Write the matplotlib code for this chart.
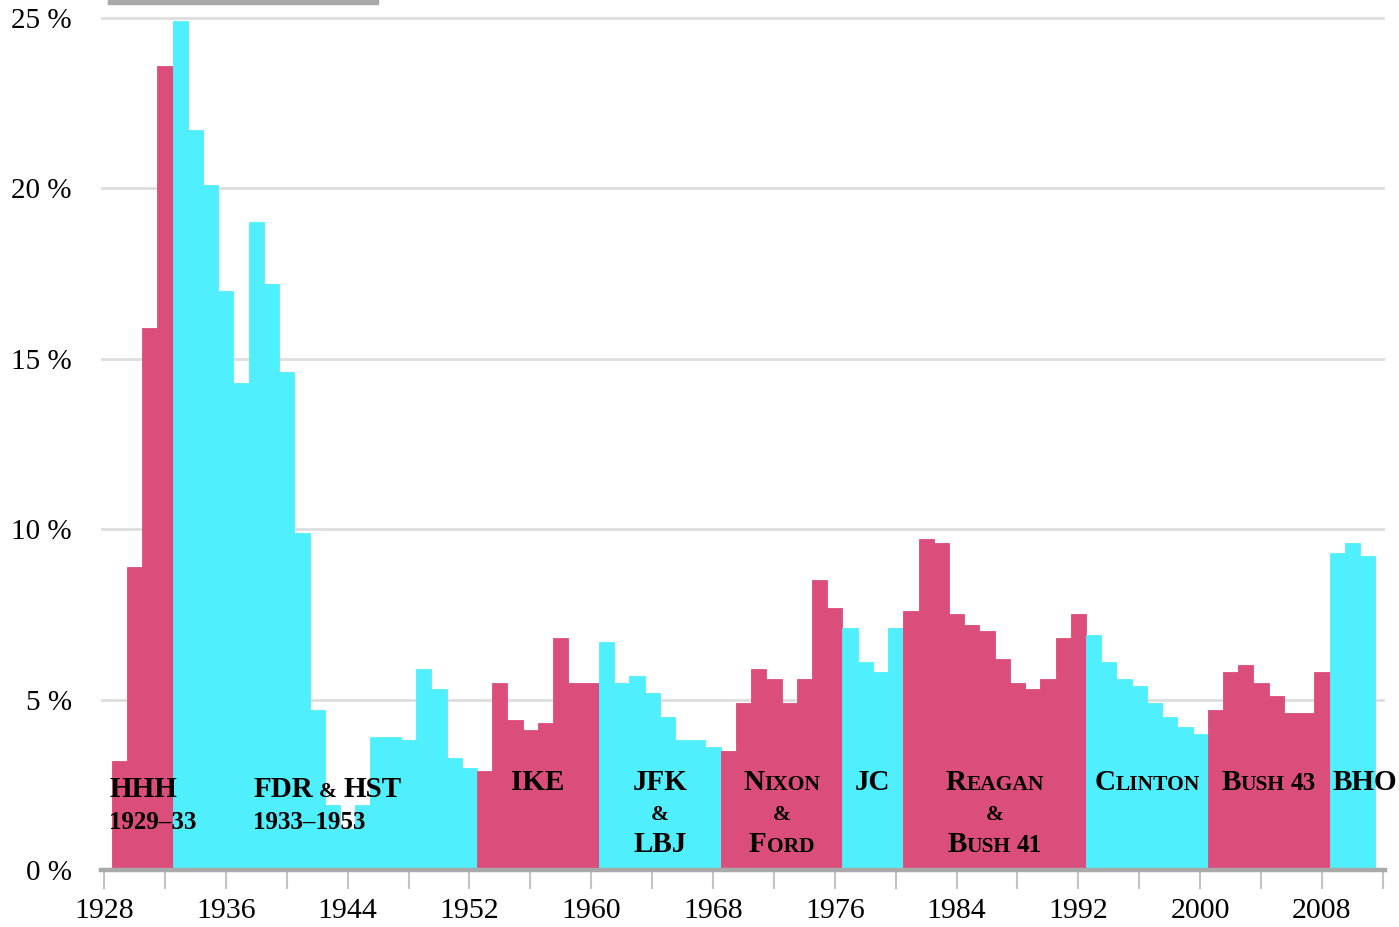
import matplotlib
matplotlib.use("Agg")
import matplotlib.pyplot as plt
from matplotlib.patches import Rectangle
from matplotlib.transforms import offset_copy

# annual unemployment rate, %
years = list(range(1929, 2012))
rates = [
    3.2, 8.9, 15.9, 23.6,                          # Hoover
    24.9, 21.7, 20.1, 17.0, 14.3, 19.0, 17.2, 14.6, 9.9, 4.7, 1.9, 1.2,
    1.9, 3.9, 3.9, 3.8, 5.9, 5.3, 3.3, 3.0,        # FDR & HST
    2.9, 5.5, 4.4, 4.1, 4.3, 6.8, 5.5, 5.5,        # Ike
    6.7, 5.5, 5.7, 5.2, 4.5, 3.8, 3.8, 3.6,        # JFK & LBJ
    3.5, 4.9, 5.9, 5.6, 4.9, 5.6, 8.5, 7.7,        # Nixon & Ford
    7.1, 6.1, 5.8, 7.1,                            # Carter
    7.6, 9.7, 9.6, 7.5, 7.2, 7.0, 6.2, 5.5, 5.3, 5.6, 6.8, 7.5,  # Reagan & Bush
    6.9, 6.1, 5.6, 5.4, 4.9, 4.5, 4.2, 4.0,        # Clinton
    4.7, 5.8, 6.0, 5.5, 5.1, 4.6, 4.6, 5.8,        # Bush 43
    9.3, 9.6, 9.2,                                 # Obama
]

term_start = [1929, 1933, 1953, 1961, 1969, 1977, 1981, 1993, 2001, 2009]
term_end = [1932, 1952, 1960, 1968, 1976, 1980, 1992, 2000, 2008, 2011]
term_party = ["R", "D", "R", "D", "R", "D", "R", "D", "R", "D"]

yticks = [0, 5, 10, 15, 20, 25]
xticks_minor = list(range(1928, 2013, 4))
xlabels = list(range(1928, 2009, 8))

RED = "#DB4D7B"
CYAN = "#50EFFD"
FONT = "Liberation Serif"
L, S, M = 21, 15.5, 18   # big caps, small caps, numbers

party_color = {"R": RED, "D": CYAN}
colors = []
for y in years:
    for s, e, p in zip(term_start, term_end, term_party):
        if s <= y <= e:
            colors.append(party_color[p])

fig = plt.figure(figsize=(13.99, 9.27), dpi=100)
W, H = 1399, 927
ax = fig.add_axes([101 / W, 57 / H, 1284 / W, 859 / H])
ax.bar(years, rates, width=1.0, color=colors, edgecolor=colors, linewidth=0.6, zorder=2)

ax.set_xlim(1927.8, 2012.14)
ax.set_ylim(0, 25.2)
for sp in ax.spines.values():
    sp.set_visible(False)

ax.set_axisbelow(True)
ax.set_yticks(yticks)
ax.set_yticklabels([f"{v} %" for v in yticks], fontsize=21, family=FONT)
ax.yaxis.grid(True, color="#dedede", lw=2)
ax.tick_params(axis="y", length=0, pad=21)

ax.set_xticks(xticks_minor)
ax.set_xticklabels([str(v) if v in xlabels else "" for v in xticks_minor], fontsize=21.5, family=FONT)
ax.tick_params(axis="x", length=14, width=1.5, color="#c4c4c4", pad=6)
ax.axhline(0, color="#a9a9a9", lw=3.2, zorder=3, clip_on=False)

# grey bar clipped at the top
fig.patches.append(Rectangle((108 / W, 1 - 4 / H), 270 / W, 4 / H, transform=fig.transFigure,
                             color="#a8a8a8", zorder=5))

renderer = fig.canvas.get_renderer()


def label(x, y, parts, align="center"):
    texts, gaps = [], []
    for s, size, gap in parts:
        t = ax.text(x, y, s, fontsize=size, fontweight="bold", family=FONT,
                    va="baseline", ha="left", zorder=4)
        texts.append(t)
        gaps.append(gap * size * fig.dpi / 72)
    widths = [t.get_window_extent(renderer).width for t in texts]
    total = sum(widths) + sum(gaps)
    off = -total / 2 if align == "center" else 0
    for t, w, g in zip(texts, widths, gaps):
        off += g
        t.set_transform(offset_copy(ax.transData, fig=fig, x=off, y=0, units="dots"))
        off += w


def mid(i):
    return (term_start[i] + term_end[i]) / 2


def sc(word, gap=0.0):
    return [(word[0], L, gap), (word[1:].upper(), S, 0)]


label(1928.33, 2.14, [("HHH", L, 0)], "left")
label(1928.33, 1.2, [("1929–33", M, 0)], "left")
label(1937.8, 2.14, [("FDR", L, 0), ("&", S, 0.25), ("HST", L, 0.25)], "left")
label(1937.8, 1.2, [("1933–1953", M, 0)], "left")
label(mid(2), 2.35, [("IKE", L, 0)])
label(mid(3), 2.35, [("JFK", L, 0)])
label(mid(3), 1.47, [("&", S, 0)])
label(mid(3), 0.53, [("LBJ", L, 0)])
label(mid(4), 2.35, sc("Nixon"))
label(mid(4), 1.47, [("&", S, 0)])
label(mid(4), 0.53, sc("Ford"))
label(mid(5), 2.35, [("JC", L, 0)])
label(mid(6), 2.35, sc("Reagan"))
label(mid(6), 1.47, [("&", S, 0)])
label(mid(6), 0.53, sc("Bush") + [("41", M, 0.25)])
label(mid(7), 2.35, sc("Clinton"))
label(mid(8), 2.35, sc("Bush") + [("43", M, 0.25)])
label(2008.7, 2.35, [("BHO", L, 0)], "left")

fig.savefig("out.png", dpi=100)
